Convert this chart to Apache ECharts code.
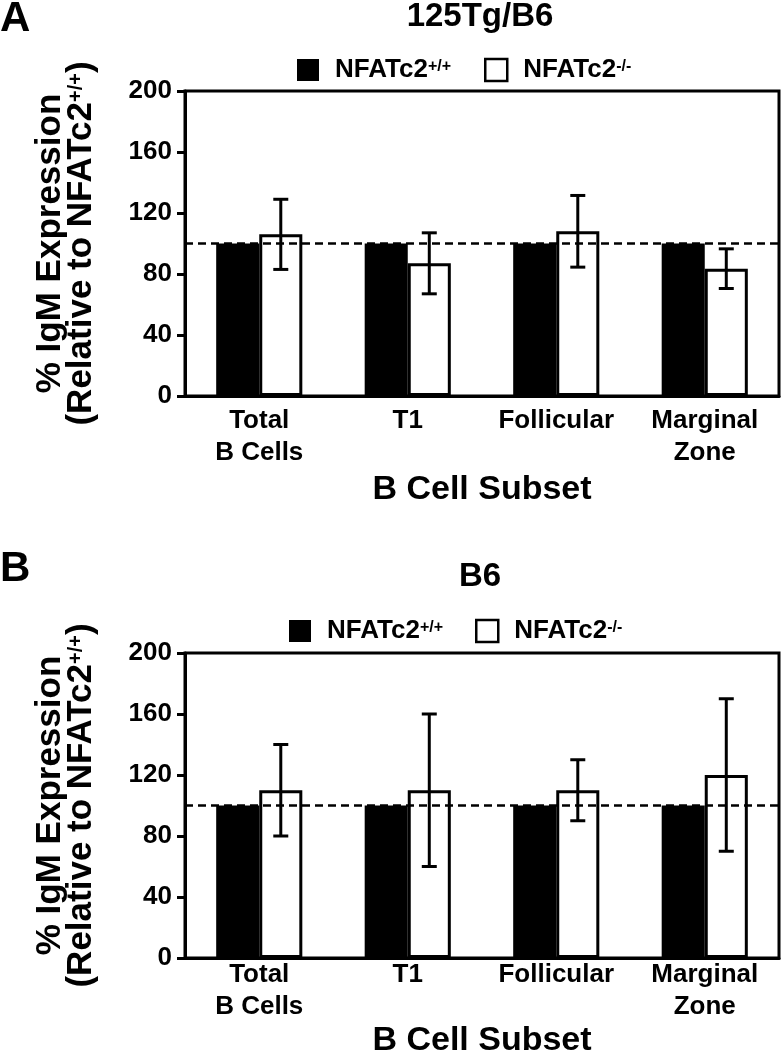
<!DOCTYPE html>
<html><head><meta charset="utf-8">
<script src="https://cdn.jsdelivr.net/npm/echarts@6/dist/echarts.min.js"></script>
<style>html,body{margin:0;padding:0;background:#fff}#c{width:783px;height:1050px}</style>
</head><body><div id="c"></div>
<script>
// ---- data ----
const categories = ['Total\nB Cells', 'T1', 'Follicular', 'Marginal\nZone'];
const yTicks = [0, 40, 80, 120, 160, 200];
const seriesNames = ['NFATc2+/+', 'NFATc2-/-'];
const panelTitles = ['125Tg/B6', 'B6'];
const panelLetters = ['A', 'B'];
const xAxisTitle = 'B Cell Subset';
const yAxisTitle1 = '% IgM Expression';
const yAxisTitle2 = '(Relative to NFATc2';
const yAxisTitleSup = '+/+';
const wtA = [100, 100, 100, 100];
const koA = [106, 87, 108, 83.5];
const koErrA = [23, 20, 23.5, 13];
const wtB = [100, 100, 100, 100];
const koB = [110, 110, 110, 120];
const koErrB = [30, 50, 20, 50];
const refLine = 100;

// ---- layout ----
const FONT = '"Liberation Sans", Arial, sans-serif';
const BAR_FRAC = 0.29;
const panels = [
  {top: 91, height: 305, legendTop: 57, legendLeft: [297, 484], titleY: 17, letterY: 19,
   xMargin: 9, xNameGap: 77, wt: wtA, ko: koA, err: koErrA},
  {top: 653, height: 305, legendTop: 618, legendLeft: [289, 475], titleY: 577, letterY: 569,
   xMargin: 1, xNameGap: 61, wt: wtB, ko: koB, err: koErrB}
];

function errRender(params, api) {
  const i = api.value(0);
  const top = api.coord([i, api.value(2)]);
  const bot = api.coord([i, api.value(1)]);
  const bw = api.size([1, 0])[0] * BAR_FRAC;
  const x = top[0] + bw / 2;
  const cap = 7.5;
  const ls = {stroke: '#000', lineWidth: 3};
  return {type: 'group', children: [
    {type: 'line', shape: {x1: x, y1: top[1], x2: x, y2: bot[1]}, style: ls},
    {type: 'line', shape: {x1: x - cap, y1: top[1], x2: x + cap, y2: top[1]}, style: ls},
    {type: 'line', shape: {x1: x - cap, y1: bot[1], x2: x + cap, y2: bot[1]}, style: ls}
  ]};
}

const grid = [], xAxis = [], yAxis = [], series = [], legend = [], graphic = [];
panels.forEach((p, k) => {
  grid.push({left: 185, width: 594, top: p.top, height: p.height, show: true,
    borderColor: '#000', borderWidth: 3, backgroundColor: 'transparent', outerBoundsMode: 'none'});
  xAxis.push({type: 'category', gridIndex: k, data: categories,
    axisLine: {lineStyle: {color: '#000', width: 3}}, axisTick: {show: false},
    axisLabel: {interval: 0, margin: p.xMargin, color: '#000', fontFamily: FONT, fontWeight: 'bold',
      fontSize: 26, lineHeight: 32},
    name: xAxisTitle, nameLocation: 'middle', nameGap: p.xNameGap,
    nameTextStyle: {color: '#000', fontFamily: FONT, fontWeight: 'bold', fontSize: 34, lineHeight: 33}});
  yAxis.push({type: 'value', gridIndex: k, min: yTicks[0], max: yTicks[yTicks.length - 1],
    interval: yTicks[1] - yTicks[0], splitLine: {show: false},
    axisLine: {show: true, lineStyle: {color: '#000', width: 3}},
    axisTick: {show: true, length: 8, lineStyle: {color: '#000', width: 3}},
    axisLabel: {margin: 13, color: '#000', fontFamily: FONT, fontWeight: 'bold', fontSize: 26},
    name: '{a|' + yAxisTitle1 + '}\n{a|' + yAxisTitle2 + '}{s|' + yAxisTitleSup + '}{a|)}',
    nameLocation: 'middle', nameGap: 88,
    nameTextStyle: {color: '#000', fontFamily: FONT, fontWeight: 'bold', fontSize: 35, lineHeight: 31,
      rich: {a: {color: '#000', fontFamily: FONT, fontWeight: 'bold', fontSize: 35, lineHeight: 31},
             s: {color: '#000', fontFamily: FONT, fontWeight: 'bold', fontSize: 20, lineHeight: 14, verticalAlign: 'top'}}}});
  series.push({type: 'bar', name: seriesNames[0], xAxisIndex: k, yAxisIndex: k, data: p.wt,
    barWidth: (BAR_FRAC * 100) + '%', barGap: '0%',
    itemStyle: {color: '#000', borderColor: '#000', borderWidth: 0},
    markLine: {silent: true, symbol: ['none', 'none'], label: {show: false},
      lineStyle: {color: '#000', width: 2.5, type: [8, 5]}, data: [{yAxis: refLine}]}});
  series.push({type: 'bar', name: seriesNames[1], xAxisIndex: k, yAxisIndex: k, data: p.ko,
    barWidth: (BAR_FRAC * 100) + '%', barGap: '0%',
    itemStyle: {color: '#fff', borderColor: '#000', borderWidth: 3}});
  series.push({type: 'custom', name: 'err' + k, xAxisIndex: k, yAxisIndex: k, z: 5,
    renderItem: errRender, encode: {x: 0, y: [1, 2]},
    data: p.ko.map((v, i) => [i, v - p.err[i], v + p.err[i]])});
  seriesNames.forEach((nm, j) => {
    legend.push({left: p.legendLeft[j], top: p.legendTop, padding: 0, itemWidth: 22, itemHeight: 22,
      icon: 'rect', selectedMode: false,
      data: [{name: nm, itemStyle: j === 0 ? {color: '#000', borderWidth: 0}
        : {color: '#fff', borderColor: '#000', borderWidth: 2.5}}],
      formatter: n => '{n|NFATc2}{s|' + n.slice(6) + '}',
      textStyle: {rich: {
        n: {color: '#000', fontFamily: FONT, fontWeight: 'bold', fontSize: 26, lineHeight: 22, padding: [0, 0, 0, 11]},
        s: {color: '#000', fontFamily: FONT, fontWeight: 'bold', fontSize: 16, lineHeight: 12, verticalAlign: 'top'}}}});
  });
  graphic.push({type: 'text', x: 480, y: p.titleY,
    style: {text: panelTitles[k], font: 'bold 33px ' + FONT, fill: '#000',
      align: 'center', verticalAlign: 'middle', textAlign: 'center', textVerticalAlign: 'middle'}});
  graphic.push({type: 'text', x: 0, y: p.letterY,
    style: {text: panelLetters[k], font: 'bold 42px ' + FONT, fill: '#000',
      align: 'left', verticalAlign: 'middle', textAlign: 'left', textVerticalAlign: 'middle'}});
});

const chart = echarts.init(document.getElementById('c'), null, {renderer: 'canvas'});
chart.setOption({animation: false, backgroundColor: '#fff', grid, xAxis, yAxis, series, legend, graphic});
</script>
</body></html>
